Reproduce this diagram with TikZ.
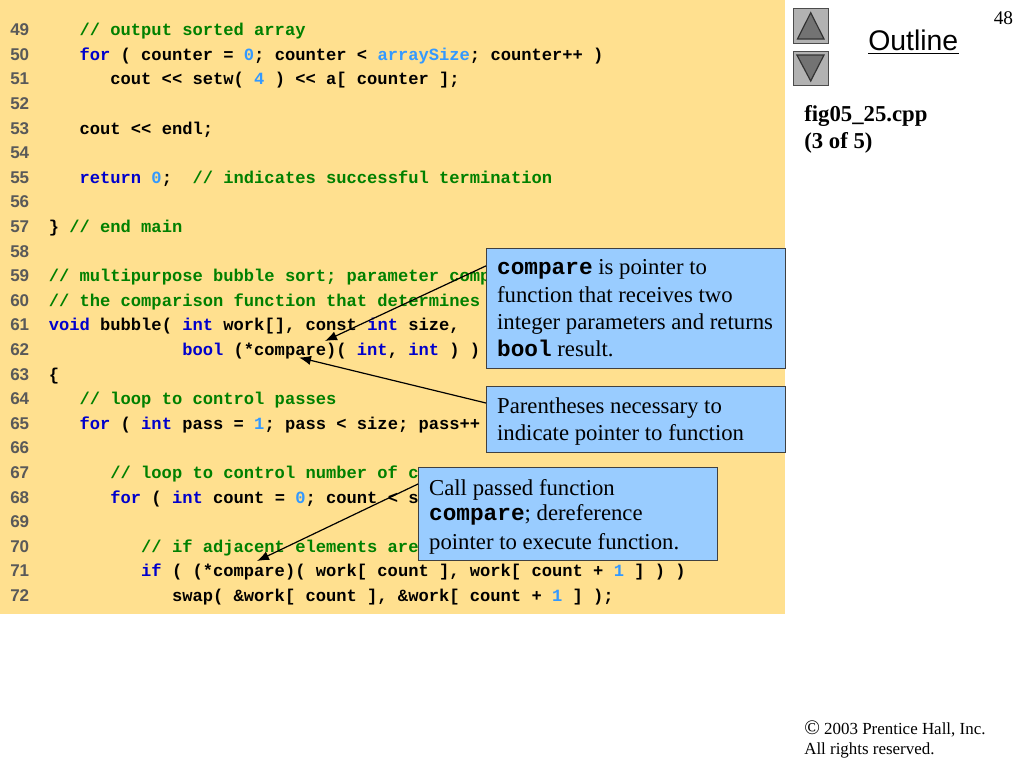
\documentclass[tikz,border=0pt]{standalone}
\usepackage{fontspec}
\usetikzlibrary{arrows.meta}
\setmainfont{Liberation Serif}
\newfontfamily\codefont{Liberation Mono}[BoldFont=* Bold]
\newfontfamily\armfont{Liberation Sans}
\definecolor{slidebg}{RGB}{255,224,143}
\definecolor{boxblue}{RGB}{153,204,255}
\definecolor{cmt}{RGB}{0,128,0}
\definecolor{kw}{RGB}{0,0,204}
\definecolor{lit}{RGB}{51,153,255}
\definecolor{num}{RGB}{89,89,89}
\newcommand{\K}[1]{\textcolor{kw}{#1}}
\newcommand{\C}[1]{\textcolor{cmt}{#1}}
\newcommand{\Lt}[1]{\textcolor{lit}{#1}}
\newcommand{\cl}[3]{\node[codeline] (c#1) at ({48.5+10.27*#2},{35.7+24.6*(#1-49)}) {#3};}
\newcommand{\mb}[1]{{\codefont\bfseries #1}}
\tikzset{
  x=0.75pt,y=-0.75pt,
  codeline/.style={anchor=base west,inner sep=0pt,font=\codefont\bfseries\fontsize{12.84}{15}\selectfont},
  numline/.style={anchor=base west,inner sep=0pt,text=num,font=\armfont\bfseries\fontsize{12.75}{15}\selectfont},
  callout/.style={draw=black!75,line width=0.75pt,fill=boxblue,anchor=north west,align=flush left,inner xsep=8pt,inner ysep=0pt,
    text width=208pt,font=\fontsize{17.05}{20.7}\selectfont},
  pointer/.style={draw=black,line width=0.9pt,-{Latex[length=9pt,width=7pt]}},
  navbtn/.style={draw=black!70,line width=0.75pt,fill=black!30,minimum size=25.8pt,inner sep=0pt,anchor=north west},
  navtri/.style={draw=black!80,line width=0.9pt,fill=black!55},
  plain/.style={anchor=base west,inner sep=0pt},
}
\begin{document}
\begin{tikzpicture}
\useasboundingbox (0,0) rectangle (1024,768);
\fill[white] (0,0) rectangle (1024,768);
\fill[slidebg] (0,0) rectangle (785,613.5);
\foreach \i in {49,...,72}{
  \node[numline] (n\i) at (10,{35.7+24.6*(\i-49)}) {\i};
}
\cl{49}{3}{\C{// output sorted array}}
\cl{50}{3}{\K{for} ( counter = \Lt{0}; counter < \Lt{arraySize}; counter++ )}
\cl{51}{6}{cout << setw( \Lt{4} ) << a[ counter ];}
\cl{53}{3}{cout << endl;}
\cl{55}{3}{\K{return} \Lt{0};\ \ \C{// indicates successful termination}}
\cl{57}{0}{\} \C{// end main}}
\cl{59}{0}{\C{// multipurpose bubble sort; parameter comp}}
\cl{60}{0}{\C{// the comparison function that determines}}
\cl{61}{0}{\K{void} bubble( \K{int} work[], const \K{int} size,}
\cl{62}{13}{\K{bool} (*compare)( \K{int}, \K{int} ) )}
\cl{63}{0}{\{}
\cl{64}{3}{\C{// loop to control passes}}
\cl{65}{3}{\K{for} ( \K{int} pass = \Lt{1}; pass < size; pass++}
\cl{67}{6}{\C{// loop to control number of c}}
\cl{68}{6}{\K{for} ( \K{int} count = \Lt{0}; count < s}
\cl{70}{9}{\C{// if adjacent elements are}}
\cl{71}{9}{\K{if} ( (*compare)( work[ count ], work[ count + \Lt{1} ] ) )}
\cl{72}{12}{swap( \&work[ count ], \&work[ count + \Lt{1} ] );}

\node[callout,minimum width=224pt,minimum height=90.4pt] (b1) at (486,247.5)
  {\mb{compare} is pointer to\\function that receives two\\\mbox{integer parameters and returns}\\[-0.6pt]\mb{bool} result.};
\node[callout,minimum width=224pt,minimum height=49.5pt] (b2) at (486,386)
  {\rule{0pt}{14.6pt}Parentheses necessary to\\indicate pointer to function};
\node[callout,minimum width=224pt,minimum height=70.2pt] (b3) at (418,466.7)
  {\rule{0pt}{16.7pt}Call passed function\\[-1.95pt]\mb{compare}; dereference\\[1pt]pointer to execute function.};

\coordinate (t1) at (325,341);
\coordinate (t2) at (299,357.5);
\coordinate (t3) at (257,561);
\draw[pointer] ([yshift=31.8pt]b1.west) -- (t1);
\draw[pointer] (b2.north west |- 0,403) -- (t2);
\draw[pointer] (b3.north west |- 0,484) -- (t3);

\node[navbtn] (up) at (793.3,8.3) {};
\node[navbtn] (down) at (793.3,50.5) {};
\coordinate (ua) at (810.7,12.7); \coordinate (ub) at (824,39); \coordinate (uc) at (797.5,39);
\coordinate (da) at (796.9,55); \coordinate (db) at (824,55); \coordinate (dc) at (810.7,81);
\draw[navtri] (ua) -- (ub) -- (uc) -- cycle;
\draw[navtri] (da) -- (db) -- (dc) -- cycle;

\node[plain,font=\armfont\fontsize{21.3}{25}\selectfont] (outl) at (868,50) {Outline};
\draw[line width=1.4pt] ([yshift=-2.6pt]outl.base west) -- ([yshift=-2.6pt]outl.base east);
\node[plain,font=\fontsize{14.5}{18}\selectfont] (pg) at (993.5,24.3) {48};
\node[plain,font=\bfseries\fontsize{17.05}{20}\selectfont] (f1) at (804,121) {fig05\_25.cpp};
\node[plain,font=\bfseries\fontsize{17.05}{20}\selectfont] (f2) at (804,148) {(3 of 5)};
\node[plain,font=\fontsize{12.7}{15}\selectfont] (cp1) at (804,734) {{\fontsize{15.5}{15}\selectfont ©} 2003 Prentice Hall, Inc.};
\node[plain,font=\fontsize{12.7}{15}\selectfont] (cp2) at (804,754) {All rights reserved.};
\end{tikzpicture}
\end{document}
